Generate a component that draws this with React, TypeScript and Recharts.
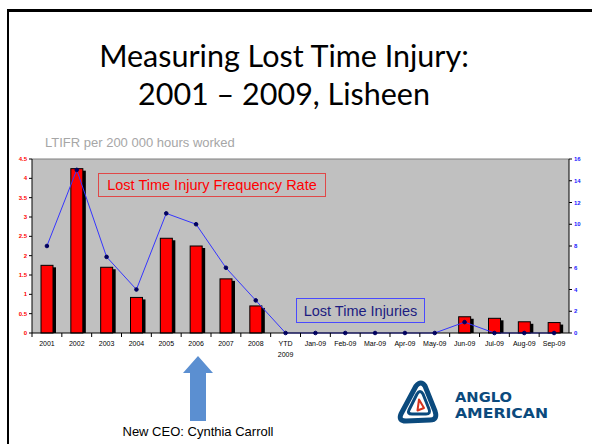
import React from "react";
import {
  ComposedChart, Bar, Line, XAxis, YAxis, CartesianGrid, ReferenceLine,
} from "recharts";

const categories = [
  "2001", "2002", "2003", "2004", "2005", "2006", "2007", "2008", "YTD 2009",
  "Jan-09", "Feb-09", "Mar-09", "Apr-09", "May-09", "Jun-09", "Jul-09", "Aug-09", "Sep-09",
];
const ltifr = [1.75, 4.25, 1.7, 0.92, 2.45, 2.25, 1.4, 0.7, 0, 0, 0, 0, 0, 0, 0.42, 0.38, 0.29, 0.27];
const injuries = [8, 15, 7, 4, 11, 10, 6, 3, 0, 0, 0, 0, 0, 0, 1, 0, 0, 0];
const leftTicks = [0, 0.5, 1, 1.5, 2, 2.5, 3, 3.5, 4, 4.5];
const rightTicks = [0, 2, 4, 6, 8, 10, 12, 14, 16];

const data = categories.map((c, i) => ({ cat: c, rate: ltifr[i], lti: injuries[i] }));

const plotLeft = 32;
const plotRight = 569;
const band = (plotRight - plotLeft) / categories.length;
const navy = "#0b4a7d";
const tickFont = "'Liberation Sans Narrow', 'Liberation Sans', Arial, sans-serif";

function ShadowBar(props: any) {
  const { x, y, width, height } = props;
  if (!height || height <= 0) return null;
  return (
    <g>
      <rect x={x + 3} y={y + 2} width={width} height={height - 2} fill="#000" />
      <rect x={x} y={y} width={width} height={height} fill="#ff0000" stroke="#000" strokeWidth={1} />
    </g>
  );
}

function XTick(props: any) {
  const { x, y, payload } = props;
  const lines = String(payload.value).split(" ");
  return (
    <g>
      <line x1={x - band / 2} x2={x - band / 2} y1={y} y2={y + 4} stroke="#000" />
      {lines.map((l, i) => (
        <text key={i} x={x} y={y + 13 + i * 11} textAnchor="middle" fontSize={7} fill="#000" fontFamily={tickFont}>
          {l}
        </text>
      ))}
    </g>
  );
}

function Logo() {
  return (
    <svg width={592} height={444} style={{ position: "absolute", left: 0, top: 0 }}>
      <path d="M416 386 Q421 380 425 386 L435 411 Q438 420 430 420 L406 421 Q398 421 401 414 Z"
        fill="none" stroke={navy} strokeWidth={5} strokeLinejoin="round" />
      <path d="M417 394 Q420 389 423 394 L429 409 Q431 414 426 414 L412 414 Q407 414 409 410 Z"
        fill="none" stroke={navy} strokeWidth={3} strokeLinejoin="round" />
      <path d="M419 399.5 L424 408 L417.5 410.5 Z" fill="#fff" stroke="#d6331c" strokeWidth={2} strokeLinejoin="round" />
      <text x={455} y={402} fontSize={13.5} fontWeight="bold" fill={navy} fontFamily="'DejaVu Sans', sans-serif"
        textLength={57} lengthAdjust="spacingAndGlyphs">ANGLO</text>
      <text x={455} y={418} fontSize={13.5} fontWeight="bold" fill={navy} fontFamily="'DejaVu Sans', sans-serif"
        textLength={93} lengthAdjust="spacingAndGlyphs">AMERICAN</text>
    </svg>
  );
}

export default function App() {
  return (
    <div style={{ position: "fixed", left: 0, top: 0, width: 592, height: 444, background: "#fff", overflow: "hidden" }}>
      {/* slide frame */}
      <div style={{ position: "absolute", left: 7, top: 8.5, width: 600, height: 3, background: "#000" }} />
      <div style={{ position: "absolute", left: 6.5, top: 8.5, width: 2.5, height: 450, background: "#000" }} />

      <div style={{
        position: "absolute", left: 0, top: 36, width: 568, textAlign: "center",
        fontFamily: "Lato, 'Open Sans', sans-serif", fontSize: 30.5, lineHeight: "38px", color: "#000",
      }}>
        Measuring Lost Time Injury:<br />2001 – 2009, Lisheen
      </div>

      <div style={{
        position: "absolute", left: 45, top: 135, fontFamily: "'Liberation Sans', Arial, sans-serif",
        fontSize: 13, color: "#a6a6a6", whiteSpace: "nowrap",
      }}>
        LTIFR per 200 000 hours worked
      </div>

      <div style={{ position: "absolute", left: 0, top: 0 }}>
        <ComposedChart width={592} height={370} data={data} margin={{ top: 159, right: 3, bottom: 0, left: 8 }}>
          <CartesianGrid yAxisId="left" horizontal={false} vertical={false} fill="#c0c0c0" />
          <XAxis dataKey="cat" height={37} interval={0} tickSize={0} tickMargin={0} tickLine={false}
            axisLine={{ stroke: "#000" }} tick={<XTick />} />
          <YAxis yAxisId="left" width={24} domain={[0, 4.5]} ticks={leftTicks} interval={0}
            tickSize={3} tickMargin={2} axisLine={{ stroke: "#000" }} tickLine={{ stroke: "#000" }}
            tick={{ fontSize: 6, fill: "#ff0000", fontFamily: tickFont, fontWeight: "bold" }} />
          <YAxis yAxisId="right" orientation="right" width={20} domain={[0, 16]} ticks={rightTicks} interval={0}
            tickSize={3} tickMargin={2} axisLine={{ stroke: "#000" }} tickLine={{ stroke: "#000" }}
            tick={{ fontSize: 6, fill: "#2020ff", fontFamily: tickFont, fontWeight: "bold" }} />
          <ReferenceLine yAxisId="left" y={4.5} stroke="#7f7f7f" />
          <Bar yAxisId="left" dataKey="rate" barSize={12} shape={<ShadowBar />} isAnimationActive={false} />
          <Line yAxisId="right" dataKey="lti" type="linear" stroke="#3535ff" strokeWidth={1}
            dot={{ r: 1.8, fill: "#000060", stroke: "#000060", strokeWidth: 1 }} isAnimationActive={false} />
        </ComposedChart>
      </div>

      {/* series labels */}
      <div style={{
        position: "absolute", left: 98, top: 173, width: 226, height: 22, border: "1.5px solid #e04848",
        color: "#ff0000", fontFamily: "'Liberation Sans', Arial, sans-serif", fontSize: 14.5,
        display: "flex", alignItems: "center", justifyContent: "center", whiteSpace: "nowrap",
      }}>
        Lost Time Injury Frequency Rate
      </div>
      <div style={{
        position: "absolute", left: 296, top: 298, width: 127, height: 23, border: "1.5px solid #4a4aff",
        color: "#1c1c80", fontFamily: "'Liberation Sans', Arial, sans-serif", fontSize: 14.5,
        display: "flex", alignItems: "center", justifyContent: "center", whiteSpace: "nowrap",
      }}>
        Lost Time Injuries
      </div>

      {/* arrow */}
      <svg width={592} height={444} style={{ position: "absolute", left: 0, top: 0 }}>
        <polygon points="198,356 213,373 206,373 206,421 190,421 190,373 183,373" fill="#5b8fd1" />
      </svg>
      <div style={{
        position: "absolute", left: 98, top: 424, width: 200, textAlign: "center",
        fontFamily: "'Liberation Sans', Arial, sans-serif", fontSize: 13, color: "#000",
      }}>
        New CEO: Cynthia Carroll
      </div>

      <Logo />
    </div>
  );
}
